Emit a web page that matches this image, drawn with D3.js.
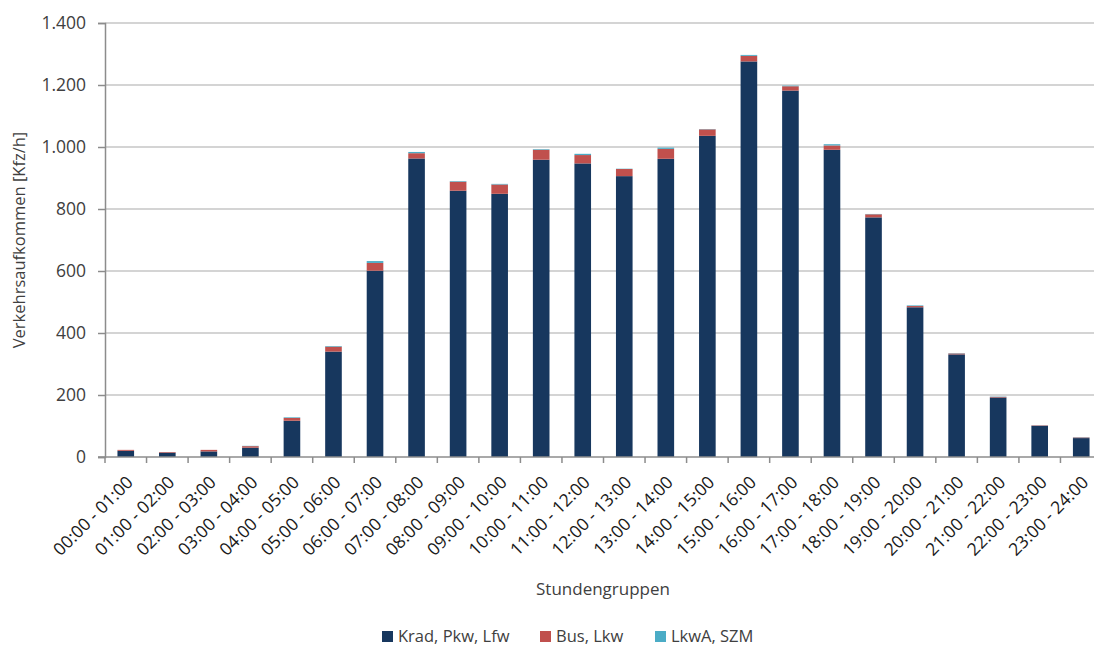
<!DOCTYPE html>
<html>
<head>
<meta charset="utf-8">
<script src="https://cdn.jsdelivr.net/npm/d3@7"></script>
<style>
  body { margin: 0; background: #fff; }
  text { font-family: "Open Sans", sans-serif; }
</style>
</head>
<body>
<script>
// data
var hours = ["00:00 - 01:00","01:00 - 02:00","02:00 - 03:00","03:00 - 04:00","04:00 - 05:00","05:00 - 06:00",
  "06:00 - 07:00","07:00 - 08:00","08:00 - 09:00","09:00 - 10:00","10:00 - 11:00","11:00 - 12:00",
  "12:00 - 13:00","13:00 - 14:00","14:00 - 15:00","15:00 - 16:00","16:00 - 17:00","17:00 - 18:00",
  "18:00 - 19:00","19:00 - 20:00","20:00 - 21:00","21:00 - 22:00","22:00 - 23:00","23:00 - 24:00"];
var kradPkwLfw = [20,14,18,30,117,340,601,963,859,849,959,947,906,962,1036,1276,1182,991,773,483,331,192,101,61];
var busLkw     = [3,2,5,5,9,16,25,17,29,30,32,27,23,32,21,18,14,14,10,4,3,2,1,2];
var lkwaSzm    = [0,0,0,1,2,2,6,4,2,2,2,4,1,4,1,3,2,4,1,2,1,1,0,1];
var yTicks = [0,200,400,600,800,1000,1200,1400];

var seriesNames = ["Krad, Pkw, Lfw", "Bus, Lkw", "LkwA, SZM"];
var colors = ["#17375e", "#c0504d", "#4bacc6"];

var W = 1094, H = 646;
var margin = {top: 23, left: 105, bottom: 189};
var plotRight = 1102;
var y0 = H - margin.bottom; // 457

var svg = d3.select("body").append("svg")
  .attr("width", W)
  .attr("height", H);

var rows = hours.map(function(h, i) {
  return {hour: h, s0: kradPkwLfw[i], s1: busLkw[i], s2: lkwaSzm[i]};
});

var x = d3.scaleBand()
  .domain(hours)
  .range([margin.left, plotRight])
  .paddingInner(0.6)
  .paddingOuter(0.3);

var y = d3.scaleLinear()
  .domain([0, 1400])
  .range([y0, margin.top]);

// gridlines
svg.append("g")
  .selectAll("line")
  .data(yTicks.slice(1))
  .join("line")
    .attr("x1", margin.left)
    .attr("x2", W)
    .attr("y1", function(d) { return y(d); })
    .attr("y2", function(d) { return y(d); })
    .attr("stroke", "#c6c6c6")
    .attr("stroke-width", 1.3);

// stacked bars
var stack = d3.stack().keys(["s0", "s1", "s2"]);
var layers = stack(rows);

svg.append("g")
  .selectAll("g")
  .data(layers)
  .join("g")
    .attr("fill", function(d, i) { return colors[i]; })
  .selectAll("rect")
  .data(function(d) { return d; })
  .join("rect")
    .attr("x", function(d) { return x(d.data.hour); })
    .attr("width", x.bandwidth())
    .attr("y", function(d) { return y(d[1]); })
    .attr("height", function(d) { return y(d[0]) - y(d[1]); });

// Y axis
var yAxis = svg.append("g")
  .attr("transform", "translate(" + margin.left + ",0)")
  .call(d3.axisLeft(y).tickValues(yTicks).tickSize(7).tickPadding(12)
    .tickFormat(function(d) { return d3.format(",")(d).replace(/,/g, "."); }));
yAxis.select(".domain").attr("stroke", "#8c8c8c").attr("stroke-width", 1.5);
yAxis.selectAll(".tick line").attr("stroke", "#8c8c8c").attr("stroke-width", 1.5);
yAxis.selectAll("text")
  .attr("font-size", "17.5px")
  .attr("fill", "#404040")
  .attr("font-family", "Open Sans, sans-serif");

// X axis
var step = x.step();
var xAxis = svg.append("g")
  .attr("transform", "translate(0," + y0 + ")");
xAxis.append("line")
  .attr("x1", margin.left - 7)
  .attr("x2", W)
  .attr("stroke", "#8c8c8c")
  .attr("stroke-width", 1.5);
xAxis.selectAll(".xt")
  .data(d3.range(hours.length + 1))
  .join("line")
    .attr("class", "xt")
    .attr("x1", function(i) { return margin.left + i * step; })
    .attr("x2", function(i) { return margin.left + i * step; })
    .attr("y1", 0)
    .attr("y2", 6)
    .attr("stroke", "#8c8c8c")
    .attr("stroke-width", 1.5);
xAxis.selectAll(".xl")
  .data(hours)
  .join("text")
    .attr("class", "xl")
    .attr("text-anchor", "end")
    .attr("font-size", "17.5px")
    .attr("fill", "#1a1a1a")
    .attr("transform", function(d) {
      return "translate(" + (x(d) + x.bandwidth() / 2 + 4) + ",22) rotate(-45)";
    })
    .attr("dy", "0.35em")
    .text(function(d) { return d; });

// axis titles
svg.append("text")
  .attr("x", 603)
  .attr("y", 595)
  .attr("text-anchor", "middle")
  .attr("font-size", "17px")
  .attr("fill", "#404040")
  .text("Stundengruppen");

svg.append("text")
  .attr("transform", "translate(25,240) rotate(-90)")
  .attr("text-anchor", "middle")
  .attr("font-size", "16.5px")
  .attr("fill", "#404040")
  .text("Verkehrsaufkommen [Kfz/h]");

// legend
var legendX = [382, 540, 655];
var legend = svg.append("g");
seriesNames.forEach(function(name, i) {
  legend.append("rect")
    .attr("x", legendX[i])
    .attr("y", 631)
    .attr("width", 11)
    .attr("height", 11)
    .attr("fill", colors[i]);
  legend.append("text")
    .attr("x", legendX[i] + 16)
    .attr("y", 642)
    .attr("font-size", "16.5px")
    .attr("fill", "#404040")
    .text(name);
});
</script>
</body>
</html>
